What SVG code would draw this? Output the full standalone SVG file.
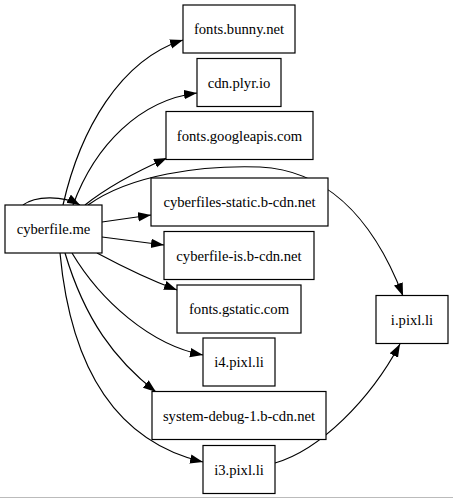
<svg xmlns="http://www.w3.org/2000/svg" width="453" height="499" viewBox="0 0 453 499">
<style>
.n rect{fill:#fff;stroke:#000;stroke-width:1.2}
.n text{font-family:'Liberation Serif','Times New Roman',Times,'DejaVu Serif',serif;font-size:14.67px;text-anchor:middle;fill:#000}
#edges path{fill:none;stroke:#000;stroke-width:1.2;marker-end:url(#ah)}
</style>
<defs>
<marker id="ah" markerUnits="userSpaceOnUse" markerWidth="14" markerHeight="10" refX="13" refY="4.67" orient="auto">
<path d="M0,0 L13,4.67 L0,9.33 z" fill="#000"/>
</marker>
</defs>
<rect width="453" height="499" fill="#fff"/>
<line x1="0" y1="497.5" x2="453" y2="497.5" stroke="#bbb" stroke-width="1"/>
<g id="edges">
<path d="M23,205 C35,196 62,195 80,205"/>
<path d="M63,205 C80,130 120,60 183,40"/>
<path d="M73,205 C95,145 140,100 197,93"/>
<path d="M85,205 C110,185 140,170 167,158"/>
<path d="M88,205 C130,175 200,165 260,167 C320,170 370,210 403,296"/>
<path d="M102,222 L151,215"/>
<path d="M102,237 L164,245"/>
<path d="M97,253 C125,268 150,280 177,290"/>
<path d="M72,253 C100,300 150,345 203,355"/>
<path d="M65,253 C85,320 115,360 156,392"/>
<path d="M60,253 C70,360 110,440 203,462"/>
<path d="M275,463 C320,450 370,400 400,344"/>
</g>
<g id="cyberfile.me" class="n"><rect x="5" y="205" width="97" height="48"/><text x="53.5" y="234">cyberfile.me</text></g>
<g id="fonts.bunny.net" class="n"><rect x="183" y="5" width="112" height="48"/><text x="239" y="34">fonts.bunny.net</text></g>
<g id="cdn.plyr.io" class="n"><rect x="197" y="58.5" width="84" height="48"/><text x="239" y="87.5">cdn.plyr.io</text></g>
<g id="fonts.googleapis.com" class="n"><rect x="166" y="111.5" width="147" height="48"/><text x="239.5" y="140.5">fonts.googleapis.com</text></g>
<g id="cyberfiles-static.b-cdn.net" class="n"><rect x="151" y="178" width="177" height="48"/><text x="239.5" y="207">cyberfiles-static.b-cdn.net</text></g>
<g id="cyberfile-is.b-cdn.net" class="n"><rect x="164" y="231.5" width="150" height="48"/><text x="239" y="260.5">cyberfile-is.b-cdn.net</text></g>
<g id="fonts.gstatic.com" class="n"><rect x="177" y="285" width="124" height="48"/><text x="239" y="314">fonts.gstatic.com</text></g>
<g id="i4.pixl.li" class="n"><rect x="203" y="338" width="72" height="48"/><text x="239" y="367">i4.pixl.li</text></g>
<g id="system-debug-1.b-cdn.net" class="n"><rect x="152" y="391.5" width="174" height="48"/><text x="239" y="420.5">system-debug-1.b-cdn.net</text></g>
<g id="i3.pixl.li" class="n"><rect x="203" y="445.5" width="72" height="48"/><text x="239" y="474.5">i3.pixl.li</text></g>
<g id="i.pixl.li" class="n"><rect x="376" y="295.5" width="72" height="48"/><text x="412" y="324.5">i.pixl.li</text></g>
</svg>
